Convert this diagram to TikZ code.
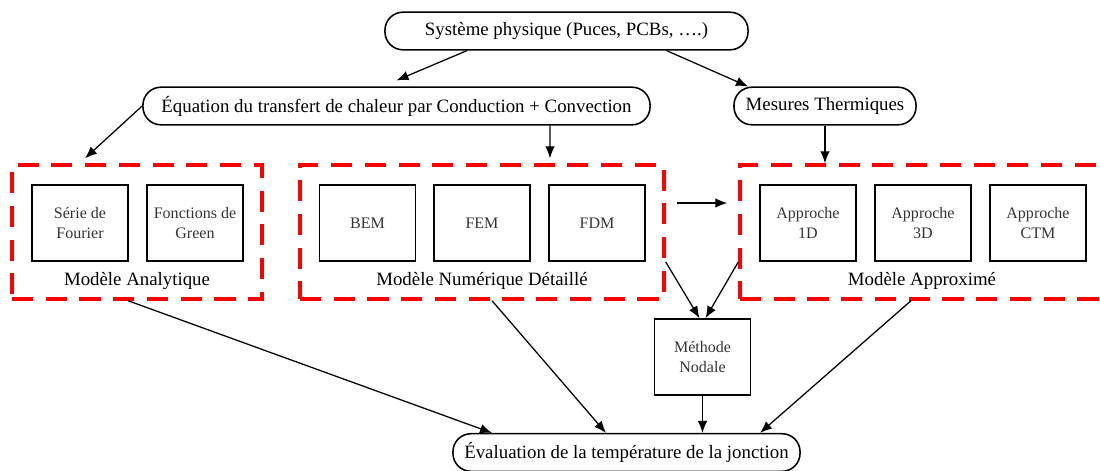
\documentclass[tikz,border=0pt]{standalone}
\usepackage{fontspec}
\setmainfont{Liberation Serif}
\usetikzlibrary{arrows.meta,calc}

\begin{document}
\begin{tikzpicture}[x=0.025cm, y=-0.025cm,
	bulle/.style={draw, line width=1.1pt, rounded corners=0.45cm, minimum height=0.94cm, inner sep=0pt, font=\fontsize{13.4}{16}\selectfont},
	boite/.style={draw, line width=1.1pt, minimum width=2.4cm, minimum height=1.9cm, inner sep=0pt, align=center, font=\fontsize{11.4}{14.2}\selectfont, text=black!80},
	groupe/.style={draw=red, line width=2.4pt, dash pattern=on 15pt off 9pt, inner sep=0pt, minimum height=3.35cm},
	titre/.style={font=\fontsize{13.4}{16}\selectfont},
	fleche/.style={-{Latex[length=3mm,width=2.4mm]}, line width=0.9pt}]
	\useasboundingbox (0,0) rectangle (1100,470);
	% noeuds arrondis
	\node[bulle, minimum width=9.075cm] (sys) at (566.5,31) {Système physique (Puces, PCBs, ….)};
	\node[bulle, minimum width=12.675cm] (eq) at (396.5,106) {Équation du transfert de chaleur par Conduction + Convection};
	\node[bulle, minimum width=4.55cm] (mes) at (825,106) {Mesures Thermiques};
	\node[bulle, minimum width=8.675cm] (eval) at (626.5,452.5) {Évaluation de la température de la jonction};
	% groupes
	\node[groupe, minimum width=6.25cm] (A) at (137,232) {};
	\node[groupe, minimum width=9.1cm] (B) at (482,232) {};
	\node[groupe, minimum width=9.1cm] (C) at (922,232) {};
	\node[titre] (tA) at ($(A.south)+(0,-20)$) {Modèle Analytique};
	\node[titre] (tB) at ($(B.south)+(0,-20)$) {Modèle Numérique Détaillé};
	\node[titre] (tC) at ($(C.south)+(0,-20)$) {Modèle Approximé};
	\foreach \x/\n/\t in {80/serie/{Série de\\Fourier}, 195/green/{Fonctions de\\Green},
		367.5/bem/BEM, 482/fem/FEM, 597/fdm/FDM,
		808/app1/{Approche\\1D}, 923/app3/{Approche\\3D}, 1038/appc/{Approche\\CTM}}
		\node[boite] (\n) at (\x,223) {\t};
	\node[boite] (meth) at (702.5,357) {Méthode\\Nodale};
	% fleches
	\draw[fleche] ($(sys.south)+(-99.5,0)$) -- ($(eq.north)+(0,-6)$);
	\draw[fleche] ($(sys.south)+(100,0)$) -- ($(mes.north)+(-77,0)$);
	\draw[fleche] (eq.west) -- ($(A.north)+(-52,-5)$);
	\draw[fleche] ($(eq.south)+(153.5,0)$) -- ($(B.north)+(68,-5)$);
	\draw[fleche] (mes.south) -- (mes.south |- C.north);
	\draw[fleche] ($(B.east)+(11,-29)$) -- ($(C.west)+(-11,-29)$);
	\draw[fleche] ($(B.east)+(0,30)$) -- ($(meth.north)+(-3,0)$);
	\draw[fleche] ($(C.west)+(0,30)$) -- ($(meth.north)+(3,0)$);
	\draw[fleche] ($(A.south)+(-9,0)$) -- ($(eval.north)+(-134.5,0)$);
	\draw[fleche] ($(B.south)+(10,0)$) -- ($(eval.north)+(-20.5,0)$);
	\draw[fleche] (meth.south) -- (meth.south |- eval.north);
	\draw[fleche] ($(C.south)+(-11,0)$) -- ($(eval.north)+(133.5,0)$);
\end{tikzpicture}
\end{document}
